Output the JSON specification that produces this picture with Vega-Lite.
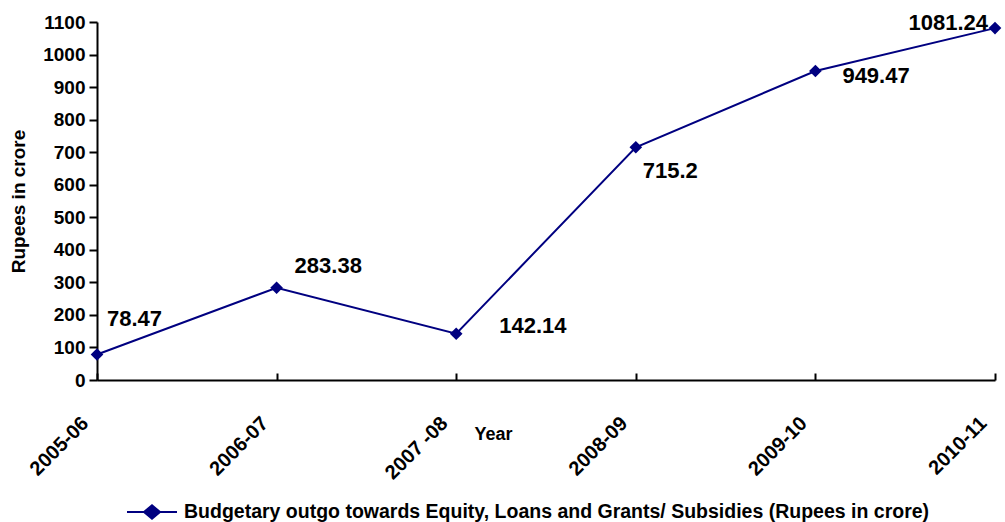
{
  "$schema": "https://vega.github.io/schema/vega-lite/v6.json",
  "autosize": "none",
  "padding": {"left": 97, "top": 22, "right": 10, "bottom": 142},
  "width": 898,
  "height": 358,
  "background": "white",
  "config": {
    "view": {"stroke": null},
    "font": "Liberation Sans",
    "text": {"font": "Liberation Sans"}
  },
  "data": {
    "values": [
      {"year": "2005-06", "value": 78.47},
      {"year": "2006-07", "value": 283.38},
      {"year": "2007 -08", "value": 142.14},
      {"year": "2008-09", "value": 715.2},
      {"year": "2009-10", "value": 949.47},
      {"year": "2010-11", "value": 1081.24}
    ]
  },
  "encoding": {
    "x": {
      "field": "year", "type": "ordinal", "sort": null,
      "scale": {"type": "point", "padding": 0},
      "axis": {
        "labelAngle": -45, "labelAlign": "right", "labelBaseline": "middle",
        "labelFontSize": 20, "labelFontWeight": "bold", "labelColor": "black",
        "labelPadding": 47, "labelOffset": -12,
        "tickSize": -7, "tickColor": "black", "tickWidth": 2,
        "domainColor": "black", "domainWidth": 2,
        "grid": false,
        "title": "Year", "titleFontSize": 18, "titleFontWeight": "bold", "titleColor": "black",
        "titleX": 396, "titleY": 54, "titleAlign": "center", "titleBaseline": "middle"
      }
    },
    "y": {
      "field": "value", "type": "quantitative",
      "scale": {"domain": [0, 1100], "nice": false},
      "axis": {
        "values": [0, 100, 200, 300, 400, 500, 600, 700, 800, 900, 1000, 1100],
        "format": "d",
        "labelFontSize": 19, "labelFontWeight": "bold", "labelColor": "black",
        "labelPadding": 4,
        "tickSize": 8, "tickColor": "black", "tickWidth": 2,
        "domainColor": "black", "domainWidth": 2,
        "grid": false,
        "title": "Rupees in crore", "titleFontSize": 19, "titleFontWeight": "bold", "titleColor": "black",
        "titleAngle": -90, "titleX": -79, "titleY": 179, "titleAlign": "center", "titleBaseline": "middle"
      }
    }
  },
  "layer": [
    {
      "mark": {"type": "line", "strokeWidth": 2},
      "encoding": {
        "color": {
          "datum": "Budgetary outgo towards Equity, Loans and Grants/ Subsidies (Rupees in crore)",
          "type": "nominal",
          "scale": {"range": ["#000080"]},
          "legend": {
            "title": null, "orient": "none", "legendX": 29, "legendY": 464,
            "padding": 0,
            "symbolType": "M-1,0L1,0M-0.32,0L0,-0.27L0.32,0L0,0.27Z",
            "symbolSize": 2500, "symbolStrokeWidth": 2,
            "symbolStrokeColor": "#000080", "symbolFillColor": "#000080",
            "labelFontSize": 19.5, "labelFontWeight": "bold", "labelColor": "black",
            "labelLimit": 1000, "labelOffset": 6
          }
        }
      }
    },
    {
      "mark": {"type": "point", "shape": "diamond", "filled": true, "size": 160, "opacity": 1},
      "encoding": {
        "color": {
          "datum": "Budgetary outgo towards Equity, Loans and Grants/ Subsidies (Rupees in crore)",
          "type": "nominal"
        }
      }
    },
    {
      "transform": [{"filter": "datum.year == '2005-06'"}],
      "mark": {"type": "text", "align": "left", "baseline": "middle", "dx": 10, "dy": -35, "fontSize": 22, "fontWeight": "bold", "color": "black"},
      "encoding": {"text": {"field": "value", "type": "quantitative", "format": ""}}
    },
    {
      "transform": [{"filter": "datum.year == '2006-07'"}],
      "mark": {"type": "text", "align": "left", "baseline": "middle", "dx": 18, "dy": -22, "fontSize": 22, "fontWeight": "bold", "color": "black"},
      "encoding": {"text": {"field": "value", "type": "quantitative", "format": ""}}
    },
    {
      "transform": [{"filter": "datum.year == '2007 -08'"}],
      "mark": {"type": "text", "align": "left", "baseline": "middle", "dx": 43, "dy": -8, "fontSize": 22, "fontWeight": "bold", "color": "black"},
      "encoding": {"text": {"field": "value", "type": "quantitative", "format": ""}}
    },
    {
      "transform": [{"filter": "datum.year == '2008-09'"}],
      "mark": {"type": "text", "align": "left", "baseline": "middle", "dx": 7, "dy": 24, "fontSize": 22, "fontWeight": "bold", "color": "black"},
      "encoding": {"text": {"field": "value", "type": "quantitative", "format": ""}}
    },
    {
      "transform": [{"filter": "datum.year == '2009-10'"}],
      "mark": {"type": "text", "align": "left", "baseline": "middle", "dx": 27, "dy": 5, "fontSize": 22, "fontWeight": "bold", "color": "black"},
      "encoding": {"text": {"field": "value", "type": "quantitative", "format": ""}}
    },
    {
      "transform": [{"filter": "datum.year == '2010-11'"}],
      "mark": {"type": "text", "align": "right", "baseline": "middle", "dx": -7, "dy": -5, "fontSize": 22, "fontWeight": "bold", "color": "black"},
      "encoding": {"text": {"field": "value", "type": "quantitative", "format": ""}}
    }
  ]
}
